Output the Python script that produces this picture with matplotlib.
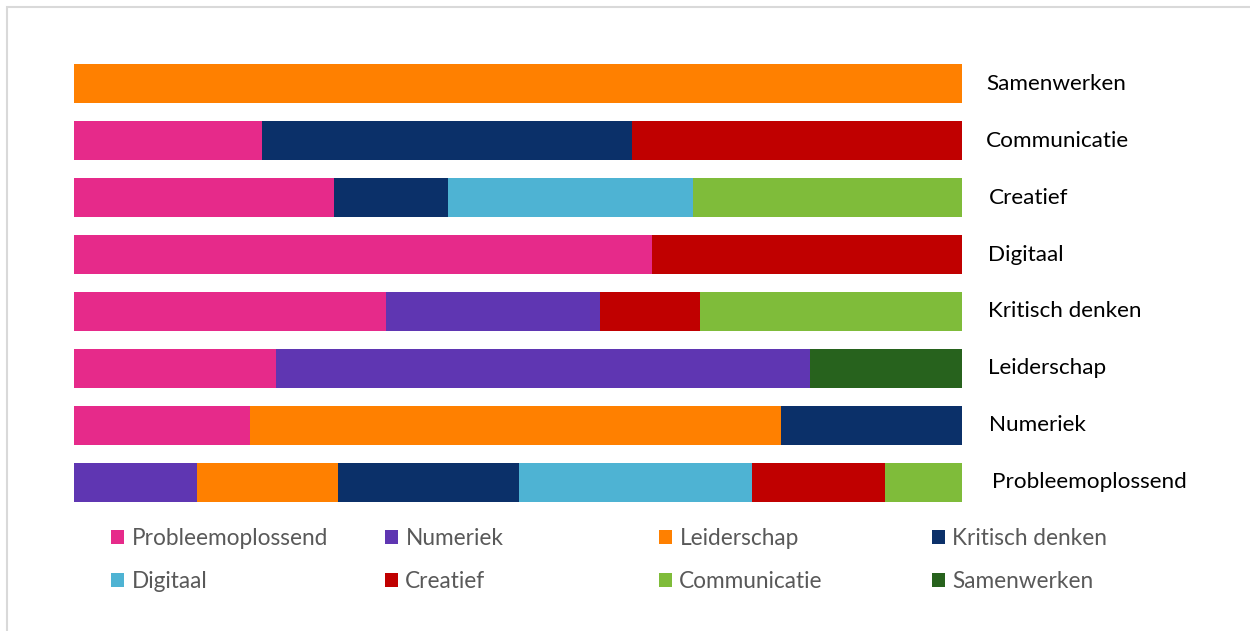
import matplotlib.pyplot as plt
from matplotlib.patches import Rectangle, Patch

plt.rcParams['font.family'] = ['Lato', 'DejaVu Sans']

# rows from top to bottom
rows = ['Samenwerken', 'Communicatie', 'Creatief', 'Digitaal',
        'Kritisch denken', 'Leiderschap', 'Numeriek', 'Probleemoplossend']

# series (percent share per row)
series = ['Probleemoplossend', 'Numeriek', 'Leiderschap', 'Kritisch denken',
          'Digitaal', 'Creatief', 'Communicatie', 'Samenwerken']
probleemoplossend = [0, 21.2, 29.3, 65.1, 35.1, 22.7, 19.8, 0]
numeriek = [0, 0, 0, 0, 24.1, 60.2, 0, 13.9]
leiderschap = [100, 0, 0, 0, 0, 0, 59.8, 15.8]
kritisch = [0, 41.6, 12.8, 0, 0, 0, 20.4, 20.4]
digitaal = [0, 0, 27.6, 0, 0, 0, 0, 26.2]
creatief = [0, 37.2, 0, 34.9, 11.3, 0, 0, 15.0]
communicatie = [0, 0, 30.3, 0, 29.5, 0, 0, 8.7]
samenwerken = [0, 0, 0, 0, 0, 17.1, 0, 0]
values = [probleemoplossend, numeriek, leiderschap, kritisch,
          digitaal, creatief, communicatie, samenwerken]
colors = ['#E62A8A', '#5F36B2', '#FF8000', '#0B3069',
          '#4EB3D3', '#C00000', '#7FBC3A', '#27621D']

fig = plt.figure(figsize=(12.5, 6.31), dpi=100)
ax = fig.add_axes([74 / 1250, 1 - 510.5 / 631, 888 / 1250, 455 / 631])

ypos = list(range(len(rows)))
left = [0] * len(rows)
for vals, col in zip(values, colors):
    ax.barh(ypos, vals, left=left, height=0.685, color=col, linewidth=0)
    left = [l + v for l, v in zip(left, vals)]

ax.set_xlim(0, 100)
ax.set_ylim(len(rows) - 0.5, -0.5)
ax.axis('off')

# row labels on the right
label_x = [986, 986, 989, 988, 988, 988, 989, 992]
for i, name in enumerate(rows):
    ax.text((label_x[i] - 74) / 888 * 100, i, name, fontsize=16.2,
            color='black', va='center', ha='left')

# legend: 4 columns, 2 rows
handles = [Patch(facecolor=c, edgecolor='none') for c in colors]
col_x = [111, 385, 659, 932]
for k in range(4):
    hs = [handles[k], handles[k + 4]]
    ls = [series[k], series[k + 4]]
    fig.legend(hs, ls, loc='upper left',
               bbox_to_anchor=(col_x[k] / 1250, 1 - 528 / 631),
               frameon=False, fontsize=16.3, labelcolor='#595959',
               handlelength=0.58, handleheight=0.58, handletextpad=0.32,
               labelspacing=0.98, borderpad=0, borderaxespad=0)

# light grey frame of the chart area
fig.patches.append(Rectangle((7 / 1250, -0.1), 1.2, 1 - 7 / 631 + 0.1,
                             transform=fig.transFigure, fill=False,
                             edgecolor='#D9D9D9', linewidth=1.5))

fig.savefig('out.png', dpi=100)
